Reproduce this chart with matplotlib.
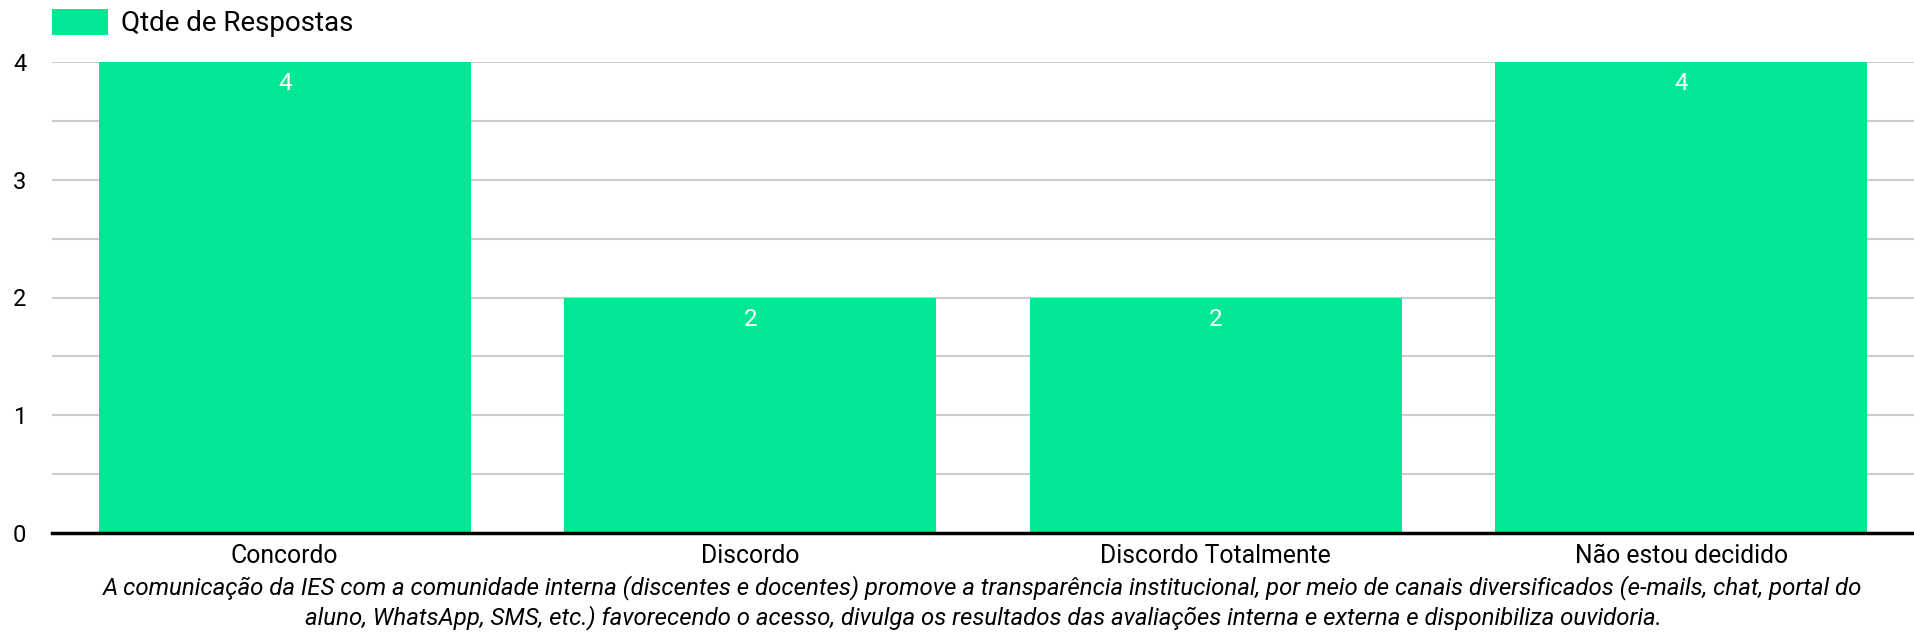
import matplotlib.pyplot as plt
import numpy as np

plt.rcParams['font.family'] = ['Roboto', 'DejaVu Sans']

categories = ["Concordo", "Discordo", "Discordo Totalmente", "Não estou decidido"]
respostas = [4, 2, 2, 4]
serie_nome = "Qtde de Respostas"
legenda_eixo = ("A comunicação da IES com a comunidade interna (discentes e docentes) promove a transparência institucional, "
                "por meio de canais diversificados (e-mails, chat, portal do\naluno, WhatsApp, SMS, etc.) favorecendo o acesso, "
                "divulga os resultados das avaliações interna e externa e disponibiliza ouvidoria.")

VERDE = "#00e893"

fig = plt.figure(figsize=(19.14, 6.4), dpi=100)
ax = fig.add_axes([52 / 1914, 1 - 533 / 640, 1 - 52 / 1914, (533 - 62) / 640])

x = np.arange(len(categories))
bars = ax.bar(x, respostas, width=0.8, color=VERDE, zorder=2)

for b, v in zip(bars, respostas):
    ax.annotate(str(v), (b.get_x() + b.get_width() / 2, v), xytext=(0, -7.5),
                textcoords="offset points", ha="center", va="top",
                color="white", fontsize=17.5, zorder=3)

ax.set_xlim(-0.5, len(categories) - 0.5)
ax.set_ylim(0, 4)
ax.set_yticks([0, 1, 2, 3, 4])
ax.set_yticks(np.arange(0, 4.01, 0.5), minor=True)
ax.grid(axis="y", which="both", color="#cccccc", linewidth=1.5, zorder=0)
ax.tick_params(axis="y", which="both", length=0, labelsize=17, pad=28)
ax.tick_params(axis="x", length=0, labelsize=17.8, pad=8)
ax.set_xticks(x)
ax.set_xticklabels(categories)
for s in ["top", "right", "left"]:
    ax.spines[s].set_visible(False)
ax.spines["bottom"].set_linewidth(2.5)
ax.spines["bottom"].set_zorder(4)
for lab in ax.get_yticklabels():
    lab.set_horizontalalignment("left")

ax.set_xlabel(legenda_eixo, fontsize=17.3, style="italic", labelpad=5, linespacing=1.25)

ax.legend([bars[0]], [serie_nome], loc="upper left", bbox_to_anchor=(0, 1 + 53 / 471),
          frameon=False, fontsize=20, handlelength=2.0, handleheight=1.05,
          borderaxespad=0, borderpad=0, handletextpad=0.5)

fig.savefig("out.png", dpi=100)
